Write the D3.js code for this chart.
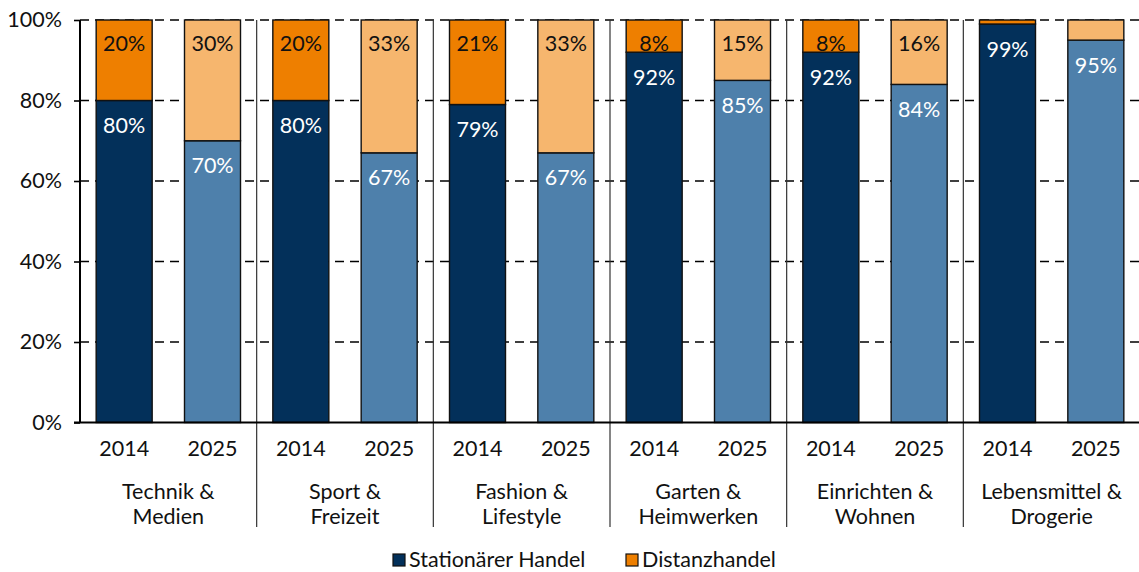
<!DOCTYPE html>
<html>
<head>
<meta charset="utf-8">
<script src="https://cdn.jsdelivr.net/npm/d3@7"></script>
<style>
  html, body { margin: 0; padding: 0; background: #fff; }
  svg { display: block; font-family: Lato, "Noto Sans", sans-serif; font-weight: 400; }
</style>
</head>
<body>
<svg id="chart" width="1139" height="572"></svg>
<script>
// Retail channel share by sector, 2014 vs. 2025
const categories = [
  ["Technik &", "Medien"],
  ["Sport &", "Freizeit"],
  ["Fashion &", "Lifestyle"],
  ["Garten &", "Heimwerken"],
  ["Einrichten &", "Wohnen"],
  ["Lebensmittel &", "Drogerie"]
];
const years = ["2014", "2025"];
// Share of stationary retail (%), per category: [2014, 2025]
const stationaer = [[80, 70], [80, 67], [79, 67], [92, 85], [92, 84], [99, 95]];
// Share of distance selling (%), per category: [2014, 2025]
const distanz = [[20, 30], [20, 33], [21, 33], [8, 15], [8, 16], [1, 5]];
const yTicks = [0, 20, 40, 60, 80, 100];
const seriesNames = ["Stationärer Handel", "Distanzhandel"];

const colors = {
  stat: { "2014": "#03305A", "2025": "#4E80AB" },
  dist: { "2014": "#EE7F00", "2025": "#F6B66E" }
};

const FS = 21.5;
const svg = d3.select("#chart");
const m = { left: 80, top: 20 };
const plotW = 1140 - m.left;
const y0 = 422.5, y1 = 20;

const rows = [];
categories.forEach((c, i) => years.forEach((yr, j) => {
  rows.push({ key: i + "-" + yr, cat: i, year: yr, stat: stationaer[i][j], dist: distanz[i][j] });
}));

const xGroup = d3.scaleBand().domain(d3.range(categories.length)).range([m.left, m.left + plotW]);
const xBar = d3.scaleBand().domain(rows.map(d => d.key)).range([m.left, m.left + plotW])
  .paddingInner(0.366).paddingOuter(0.183);
const y = d3.scaleLinear().domain([0, 100]).range([y0, y1]);

// dashed gridlines
svg.append("g").selectAll("line").data(yTicks.filter(t => t > 0)).join("line")
  .attr("x1", m.left).attr("x2", m.left + plotW)
  .attr("y1", d => y(d)).attr("y2", d => y(d))
  .attr("stroke", "#000").attr("stroke-width", 1.6).attr("stroke-dasharray", "9,6");

// group separators
svg.append("g").selectAll("line").data(d3.range(1, categories.length)).join("line")
  .attr("x1", d => xGroup(d)).attr("x2", d => xGroup(d))
  .attr("y1", y1).attr("y2", 527)
  .attr("stroke", "#333").attr("stroke-width", 1.2);

// stacked bars
const bars = svg.append("g");
rows.forEach(d => {
  const x = xBar(d.key), w = xBar.bandwidth();
  bars.append("rect")
    .attr("x", x).attr("width", w)
    .attr("y", y(d.stat)).attr("height", y(0) - y(d.stat))
    .attr("fill", colors.stat[d.year]).attr("stroke", "#111").attr("stroke-width", 1.4);
  bars.append("rect")
    .attr("x", x).attr("width", w)
    .attr("y", y(d.stat + d.dist)).attr("height", y(d.stat) - y(d.stat + d.dist))
    .attr("fill", colors.dist[d.year]).attr("stroke", "#111").attr("stroke-width", 1.4);
});

// value labels at the top of each segment
const labels = svg.append("g").attr("font-size", FS).attr("text-anchor", "middle");
rows.forEach(d => {
  const cx = xBar(d.key) + xBar.bandwidth() / 2;
  labels.append("text").attr("x", cx).attr("y", y(d.stat) + 25).attr("dy", "0.35em")
    .attr("fill", "#fff").text(d.stat + "%");
  if (d.dist >= 8) {
    labels.append("text").attr("x", cx).attr("y", y(d.stat + d.dist) + 23.5).attr("dy", "0.35em")
      .attr("fill", "#111").text(d.dist + "%");
  }
});

// axis lines
svg.append("line").attr("x1", m.left).attr("x2", m.left).attr("y1", y1).attr("y2", y0)
  .attr("stroke", "#000").attr("stroke-width", 2);
svg.append("line").attr("x1", m.left - 6).attr("x2", 1139).attr("y1", y0).attr("y2", y0)
  .attr("stroke", "#000").attr("stroke-width", 2);

// y axis labels
const yAxis = d3.axisLeft(y).tickValues(yTicks).tickFormat(d => d + "%").tickSize(6).tickPadding(12);
const ya = svg.append("g").attr("transform", `translate(${m.left},0)`).call(yAxis);
ya.select(".domain").remove();
ya.selectAll(".tick line").attr("stroke", "#000").attr("stroke-width", 1.6);
ya.selectAll("text").attr("font-size", FS).attr("fill", "#111")
  .attr("font-family", "Lato, 'Noto Sans', sans-serif").attr("font-weight", 400);

// year labels
svg.append("g").selectAll("text").data(rows).join("text")
  .attr("x", d => xBar(d.key) + xBar.bandwidth() / 2).attr("y", 448).attr("dy", "0.35em")
  .attr("text-anchor", "middle").attr("font-size", FS).attr("fill", "#111")
  .text(d => d.year);

// category labels
const catG = svg.append("g").attr("font-size", FS).attr("fill", "#111").attr("text-anchor", "middle");
categories.forEach((c, i) => {
  const cx = xGroup(i) + xGroup.bandwidth() / 2;
  c.forEach((line, k) => {
    catG.append("text").attr("x", cx).attr("y", 491 + k * 25.5).attr("dy", "0.35em").text(line);
  });
});

// legend
const legend = svg.append("g").attr("font-size", FS).attr("fill", "#111");
const legendItems = [
  { name: seriesNames[0], color: colors.stat["2014"], x: 393 },
  { name: seriesNames[1], color: colors.dist["2014"], x: 626 }
];
legendItems.forEach(it => {
  legend.append("rect").attr("x", it.x).attr("y", 554).attr("width", 12).attr("height", 12)
    .attr("fill", it.color).attr("stroke", "#111").attr("stroke-width", 1.2);
  legend.append("text").attr("x", it.x + 16).attr("y", 559).attr("dy", "0.35em").text(it.name);
});
</script>
</body>
</html>
